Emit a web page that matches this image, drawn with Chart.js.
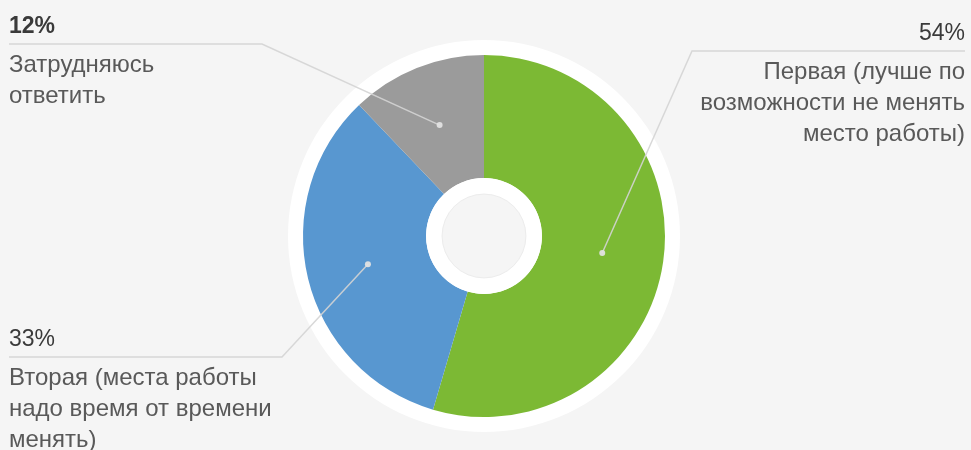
<!DOCTYPE html>
<html>
<head>
<meta charset="utf-8">
<script src="https://cdn.jsdelivr.net/npm/chart.js@4/dist/chart.umd.min.js"></script>
<style>
  html, body { margin: 0; padding: 0; background: #f5f5f5; }
  #wrap { width: 971px; height: 450px; position: relative; }
</style>
</head>
<body>
<div id="wrap"><canvas id="chart"></canvas></div>
<script>
// Chart data
const categories = [
  'Первая (лучше по возможности не менять место работы)',
  'Вторая (места работы надо время от времени менять)',
  'Затрудняюсь ответить'
];
const values = [54, 33, 12];
const labelLines = [
  ['Первая (лучше по', 'возможности не менять', 'место работы)'],
  ['Вторая (места работы', 'надо время от времени', 'менять)'],
  ['Затрудняюсь', 'ответить']
];
const colors = ['#7cb934', '#5897d0', '#9b9b9b'];

// Callout placement (annotation layout, not data)
const callouts = [
  { side: 'right', lineY: 51, bendX: 692, bold: false },
  { side: 'left', lineY: 357, bendX: 282, bold: false },
  { side: 'left', lineY: 44, bendX: 262, bold: true }
];

const FONT = '"Liberation Sans", Arial, sans-serif';
const PCT_SIZE = 23;
const TEXT_SIZE = 24;
const LINE_GAP = 31;
const BG = '#f5f5f5';

// white halo around the donut and the white ring in the hole
const ringsPlugin = {
  id: 'rings',
  beforeDatasetsDraw(chart) {
    const arc = chart.getDatasetMeta(0).data[0];
    if (!arc) return;
    const { x, y, outerRadius } = arc.getProps(['x', 'y', 'outerRadius'], true);
    const ctx = chart.ctx;
    ctx.save();
    ctx.beginPath();
    ctx.arc(x, y, outerRadius + 15, 0, Math.PI * 2);
    ctx.fillStyle = '#ffffff';
    ctx.fill();
    ctx.restore();
  },
  afterDatasetsDraw(chart) {
    const arc = chart.getDatasetMeta(0).data[0];
    if (!arc) return;
    const { x, y, innerRadius } = arc.getProps(['x', 'y', 'innerRadius'], true);
    const ctx = chart.ctx;
    ctx.save();
    ctx.beginPath();
    ctx.arc(x, y, innerRadius, 0, Math.PI * 2);
    ctx.fillStyle = '#ffffff';
    ctx.fill();
    ctx.beginPath();
    ctx.arc(x, y, innerRadius - 16, 0, Math.PI * 2);
    ctx.fillStyle = BG;
    ctx.fill();
    ctx.strokeStyle = '#ececec';
    ctx.lineWidth = 1;
    ctx.stroke();
    ctx.restore();
  }
};

// leader lines with labels
const calloutPlugin = {
  id: 'callouts',
  afterDraw(chart) {
    const ctx = chart.ctx;
    const meta = chart.getDatasetMeta(0);
    const W = chart.width;
    meta.data.forEach((arc, i) => {
      const c = callouts[i];
      const p = arc.getCenterPoint();
      const right = c.side === 'right';
      const endX = right ? W - 6 : 9;

      ctx.save();
      ctx.strokeStyle = 'rgba(212,212,212,0.9)';
      ctx.lineWidth = 1.5;
      ctx.beginPath();
      ctx.moveTo(p.x, p.y);
      ctx.lineTo(c.bendX, c.lineY);
      ctx.lineTo(endX, c.lineY);
      ctx.stroke();

      ctx.beginPath();
      ctx.arc(p.x, p.y, 3, 0, Math.PI * 2);
      ctx.fillStyle = 'rgba(225,225,225,0.95)';
      ctx.fill();

      ctx.textAlign = right ? 'right' : 'left';
      ctx.textBaseline = 'alphabetic';
      ctx.fillStyle = '#3a3a3a';
      ctx.font = (c.bold ? 'bold ' : '') + PCT_SIZE + 'px ' + FONT;
      ctx.fillText(values[i] + '%', endX, c.lineY - 11);

      ctx.fillStyle = '#595959';
      ctx.font = TEXT_SIZE + 'px ' + FONT;
      labelLines[i].forEach((line, j) => {
        ctx.fillText(line, endX, c.lineY + 28 + j * LINE_GAP);
      });
      ctx.restore();
    });
  }
};

new Chart(document.getElementById('chart'), {
  type: 'doughnut',
  data: {
    labels: categories,
    datasets: [{
      data: values,
      backgroundColor: colors,
      borderWidth: 0,
      hoverOffset: 0
    }]
  },
  options: {
    responsive: true,
    maintainAspectRatio: false,
    animation: false,
    cutout: '32%',
    layout: { padding: { top: 55, bottom: 33, left: 0, right: 3 } },
    plugins: {
      legend: { display: false },
      tooltip: { enabled: false }
    }
  },
  plugins: [ringsPlugin, calloutPlugin]
});
</script>
</body>
</html>
